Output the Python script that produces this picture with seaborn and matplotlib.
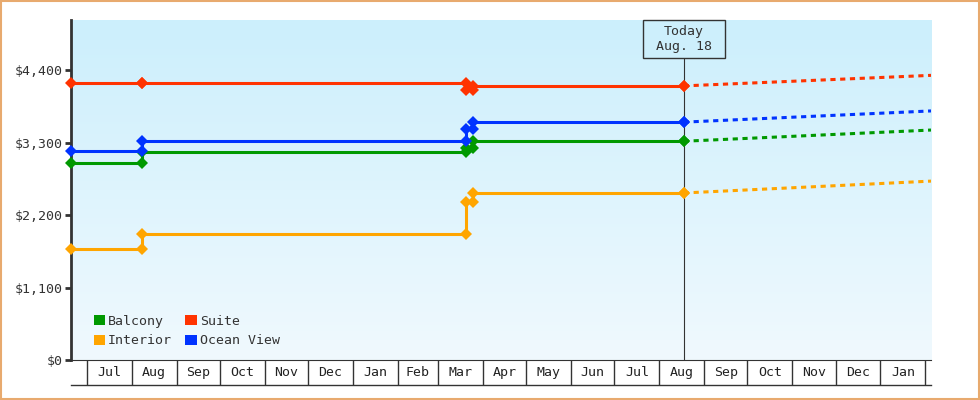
import matplotlib
matplotlib.use("Agg")
import matplotlib.pyplot as plt
import matplotlib.dates as mdates
import matplotlib.transforms as mtransforms
from matplotlib.patches import Patch, Rectangle
import numpy as np
import pandas as pd
import seaborn as sns

# ---- data ----
series_names = ["Balcony", "Interior", "Suite", "Ocean View"]
series_colors = ["#009900", "#FFA500", "#FF3300", "#0033FF"]

# dates on which prices were recorded / changed (last one = today)
price_dates = ["2022-06-20", "2022-08-08", "2023-03-20", "2023-03-25", "2023-08-18"]
balcony_prices = [2990, 3155, 3215, 3320, 3320]
interior_prices = [1685, 1910, 2395, 2535, 2535]
suite_prices = [4200, 4200, 4100, 4160, 4160]
ocean_prices = [3170, 3320, 3500, 3610, 3610]

# projected prices, today -> end of chart
forecast_dates = ["2023-08-18", "2024-02-05"]
balcony_forecast = [3320, 3490]
interior_forecast = [2535, 2715]
suite_forecast = [4160, 4320]
ocean_forecast = [3610, 3780]

today = "2023-08-18"
today_label = "Today\n Aug. 18 "
ytick_values = [0, 1100, 2200, 3300, 4400]
x_start, x_end = "2022-06-20", "2024-02-05"
month_starts = pd.date_range("2022-07-01", "2024-02-01", freq="MS")

# ---- build tables ----
history = {"Balcony": balcony_prices, "Interior": interior_prices,
           "Suite": suite_prices, "Ocean View": ocean_prices}
forecast = {"Balcony": balcony_forecast, "Interior": interior_forecast,
            "Suite": suite_forecast, "Ocean View": ocean_forecast}

rows = []
for name, prices in history.items():
    for i, (d, p) in enumerate(zip(price_dates, prices)):
        if i > 0:
            rows.append((name, pd.Timestamp(d), prices[i - 1]))
        rows.append((name, pd.Timestamp(d), p))
steps_df = pd.DataFrame(rows, columns=["series", "date", "price"])

frows = []
for name, vals in forecast.items():
    for d, v in zip(forecast_dates, vals):
        frows.append((name, pd.Timestamp(d), v))
fc_df = pd.DataFrame(frows, columns=["series", "date", "price"])

palette = dict(zip(series_names, series_colors))
today_num = mdates.date2num(pd.Timestamp(today))

# ---- style ----
sns.set_style("white")
plt.rcParams["font.family"] = ["DejaVu Sans Mono", "DejaVu Sans"]
plt.rcParams["font.size"] = 9.5
ink = "#333333"

fig = plt.figure(figsize=(9.8, 4.0), dpi=100)
ax = fig.add_axes([71 / 980, 40 / 400, 860 / 980, 340 / 400])

# gradient background
grad = np.linspace(0, 1, 256).reshape(-1, 1)
top_c = np.array([204, 239, 252]) / 255
bot_c = np.array([240, 249, 254]) / 255
img = top_c * (1 - grad[..., None]) + bot_c * grad[..., None]
ax.imshow(img, extent=[0, 1, 0, 1], transform=ax.transAxes, aspect="auto", zorder=0)

sns.lineplot(data=fc_df, x="date", y="price", hue="series", palette=palette,
             estimator=None, sort=False, legend=False, ax=ax,
             linewidth=2.2, linestyle=(0, (1.7, 1.5)), zorder=2)
sns.lineplot(data=steps_df, x="date", y="price", hue="series", palette=palette,
             estimator=None, sort=False, legend=False, ax=ax,
             linewidth=2.2, marker="D", markersize=6.3, markeredgewidth=0,
             zorder=3, clip_on=False)

ax.axvline(today_num, color=ink, lw=0.8, zorder=1.5)

ax.set_xlim(mdates.date2num(pd.Timestamp(x_start)), mdates.date2num(pd.Timestamp(x_end)))
ax.set_ylim(0, 5160)
ax.set_xticks([])
ax.set_yticks(ytick_values)
ax.set_yticklabels([f"${v:,}" for v in ytick_values])
ax.tick_params(axis="y", length=4, width=2, color=ink, labelcolor=ink, pad=2, left=True)
ax.set_xlabel("")
ax.set_ylabel("")
for s in ["top", "right"]:
    ax.spines[s].set_visible(False)
ax.spines["left"].set_color(ink)
ax.spines["left"].set_linewidth(2)
ax.spines["left"].set_zorder(2.5)
ax.spines["bottom"].set_color(ink)
ax.spines["bottom"].set_linewidth(0.8)

# today box
trans = mtransforms.blended_transform_factory(ax.transData, ax.transAxes)
ax.annotate(today_label, xy=(today_num, 1.0), xycoords=trans,
            xytext=(0, -5), textcoords="offset pixels", ha="center", va="top",
            multialignment="center", color=ink, zorder=5,
            bbox=dict(boxstyle="square,pad=0.38", fc="#CDEFFC", ec=ink, lw=1))

# legend
handles = [Patch(facecolor=palette[n], edgecolor="none", label=n) for n in series_names]
ax.legend(handles=handles, loc="lower left", ncol=2, frameon=False,
          bbox_to_anchor=(0.014, 0.006), handlelength=0.85, handleheight=0.85,
          handletextpad=0.25, columnspacing=1.0, labelspacing=0.5,
          borderaxespad=0.4, labelcolor=ink)

# month band under the axis
band = fig.add_axes([71 / 980, 15 / 400, 860 / 980, 25 / 400])
band.set_xlim(ax.get_xlim())
band.set_ylim(0, 1)
month_nums = mdates.date2num(month_starts.to_pydatetime())
band.vlines(month_nums, 0, 1, color=ink, lw=1)
for a, b, m in zip(month_nums[:-1], month_nums[1:], month_starts[:-1]):
    band.text((a + b) / 2, 0.5, m.strftime("%b"), ha="center", va="center", color="#222222")
band.set_xticks([])
band.set_yticks([])
band.set_facecolor("none")
for s in ["top", "right", "left"]:
    band.spines[s].set_visible(False)
band.spines["bottom"].set_color(ink)
band.spines["bottom"].set_linewidth(1)

fig.patches.append(Rectangle((0.001, 0.002), 0.998, 0.996, transform=fig.transFigure,
                             fill=False, ec="#E8AA6E", lw=1.5))

fig.savefig("out.png", dpi=100)
